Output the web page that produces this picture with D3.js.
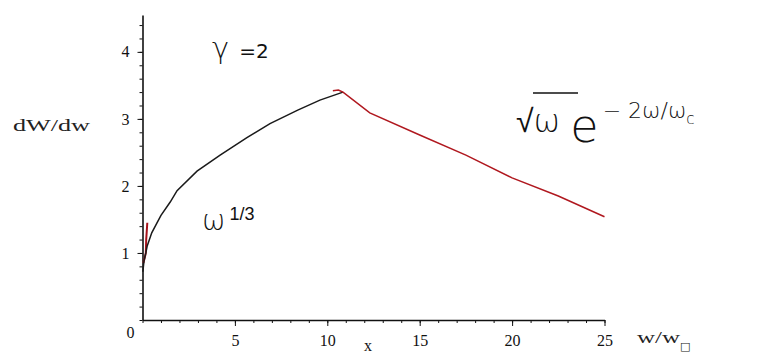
<!DOCTYPE html>
<html>
<head>
<meta charset="utf-8">
<script src="https://cdn.jsdelivr.net/npm/d3@7"></script>
<style>
  body { margin: 0; background: #fff; }
  svg { display: block; }
  .axis path, .axis line { stroke: #111; }
  .axis text { font-family: 'Liberation Serif', serif; font-size: 16px; fill: #111; }
</style>
</head>
<body>
<script>
// w/wc values and dW/dw for the low-frequency branch (black)
var lowX = [0.02, 0.08, 0.18, 0.25, 0.5, 0.77, 1.0, 1.5, 1.87, 2.95, 4.2, 5.65, 6.9, 8.4, 9.6, 10.85];
var lowY = [0.72, 0.88, 1.0, 1.1, 1.3, 1.44, 1.56, 1.76, 1.93, 2.22, 2.46, 2.72, 2.93, 3.13, 3.28, 3.40];

// high-frequency branch (red)
var highX = [10.3, 10.6, 10.85, 12.3, 15.0, 17.5, 20.0, 22.5, 25.0];
var highY = [3.42, 3.43, 3.40, 3.09, 2.76, 2.46, 2.12, 1.85, 1.54];

// small red piece near the origin
var nearX = [0.05, 0.18, 0.2, 0.26];
var nearY = [0.85, 1.0, 1.2, 1.45];

var xTicks = [5, 10, 15, 20, 25];
var yTicks = [1, 2, 3, 4];

var width = 767;
var height = 356;

var x = d3.scaleLinear()
        .domain([0, 25])
        .range([142.5, 604.5]);
var y = d3.scaleLinear()
        .domain([0, 4.55])
        .range([320, 15]);

var svg = d3.select('body')
            .append('svg')
            .attr('width', width)
            .attr('height', height);

// minor ticks (no labels)
svg.append('g')
   .attr('class', 'axis')
   .attr('transform', 'translate(0,320)')
   .call(d3.axisBottom(x).tickValues(d3.range(0, 26, 1)).tickSize(3).tickFormat('').tickSizeOuter(0))
   .select('.domain').attr('stroke-width', 1.6);
svg.append('g')
   .attr('class', 'axis')
   .attr('transform', 'translate(142.5,0)')
   .call(d3.axisLeft(y).tickValues(d3.range(0, 4.5, 0.2)).tickSize(3).tickFormat('').tickSizeOuter(0))
   .select('.domain').attr('stroke-width', 1.6);

// major ticks with labels
var xAxis = svg.append('g')
   .attr('class', 'axis')
   .attr('transform', 'translate(0,320)')
   .call(d3.axisBottom(x).tickValues(xTicks).tickSize(6).tickPadding(9).tickFormat(d3.format('d')));
xAxis.select('.domain').remove();

var yAxis = svg.append('g')
   .attr('class', 'axis')
   .attr('transform', 'translate(142.5,0)')
   .call(d3.axisLeft(y).tickValues(yTicks).tickSize(5).tickPadding(8).tickFormat(d3.format('d')));
yAxis.select('.domain').remove();

// origin label
svg.append('text')
   .attr('x', x(0) - 16)
   .attr('y', y(0) + 18)
   .attr('font-family', 'Liberation Serif, serif')
   .attr('font-size', 16)
   .attr('fill', '#111')
   .text('0');

var line = d3.line()
             .x(function (d) { return x(d[0]); })
             .y(function (d) { return y(d[1]); });

function pairs(xs, ys) {
  return xs.map(function (v, i) { return [v, ys[i]]; });
}

svg.append('path')
   .datum(pairs(nearX, nearY))
   .attr('d', line)
   .attr('fill', 'none')
   .attr('stroke', '#a8141c')
   .attr('stroke-width', 2);

svg.append('path')
   .datum(pairs(lowX, lowY))
   .attr('d', line)
   .attr('fill', 'none')
   .attr('stroke', '#1a1a1a')
   .attr('stroke-width', 1.5);

svg.append('path')
   .datum(pairs(highX, highY))
   .attr('d', line)
   .attr('fill', 'none')
   .attr('stroke', '#b0181f')
   .attr('stroke-width', 1.5);

// axis titles
svg.append('text')
   .attr('x', 13)
   .attr('y', 131)
   .attr('font-family', 'Liberation Serif, serif')
   .attr('font-size', 16)
   .attr('textLength', 77)
   .attr('lengthAdjust', 'spacingAndGlyphs')
   .attr('fill', '#222')
   .text('dW/dw');

svg.append('text')
   .attr('x', 364)
   .attr('y', 351)
   .attr('font-family', 'Liberation Serif, serif')
   .attr('font-size', 16)
   .attr('fill', '#111')
   .text('x');

svg.append('text')
   .attr('x', 637)
   .attr('y', 343)
   .attr('font-family', 'Liberation Serif, serif')
   .attr('font-size', 16)
   .attr('textLength', 43)
   .attr('lengthAdjust', 'spacingAndGlyphs')
   .attr('fill', '#222')
   .text('w/w');
svg.append('text')
   .attr('x', 680)
   .attr('y', 350)
   .attr('font-family', 'DejaVu Sans, sans-serif')
   .attr('font-size', 11)
   .attr('fill', '#111')
   .text('□');

// annotations
var g1 = svg.append('text')
   .attr('x', 212)
   .attr('y', 58)
   .attr('font-family', 'DejaVu Sans, sans-serif')
   .attr('fill', '#111');
g1.append('tspan').attr('font-size', 29).attr('font-weight', 300).text('γ');
g1.append('tspan').attr('font-size', 20).attr('dx', 10).text('=2');

var w1 = svg.append('text')
   .attr('x', 202)
   .attr('y', 230)
   .attr('font-family', 'DejaVu Sans, sans-serif')
   .attr('fill', '#111');
w1.append('tspan').attr('font-size', 28).attr('font-weight', 300).text('ω');
w1.append('tspan').attr('font-size', 18).attr('dx', 4).attr('dy', -10)
  .attr('font-family', 'Liberation Sans, sans-serif').text('1/3');

var f = svg.append('text')
   .attr('x', 516)
   .attr('y', 132)
   .attr('font-family', 'DejaVu Sans, sans-serif')
   .attr('font-weight', 300)
   .attr('fill', '#111');
f.append('tspan').attr('font-size', 32).text('√ω');
f.append('tspan').attr('font-size', 46).attr('dx', 10).attr('dy', 10).text('e');
f.append('tspan').attr('font-size', 22).attr('dx', 4).attr('dy', -24).text('− 2ω/ω');
f.append('tspan').attr('font-size', 15).attr('dy', 6).text('c');

// vinculum over the sqrt
svg.append('line')
   .attr('x1', 533).attr('x2', 578)
   .attr('y1', 93).attr('y2', 93)
   .attr('stroke', '#111')
   .attr('stroke-width', 1.5);
</script>
</body>
</html>
